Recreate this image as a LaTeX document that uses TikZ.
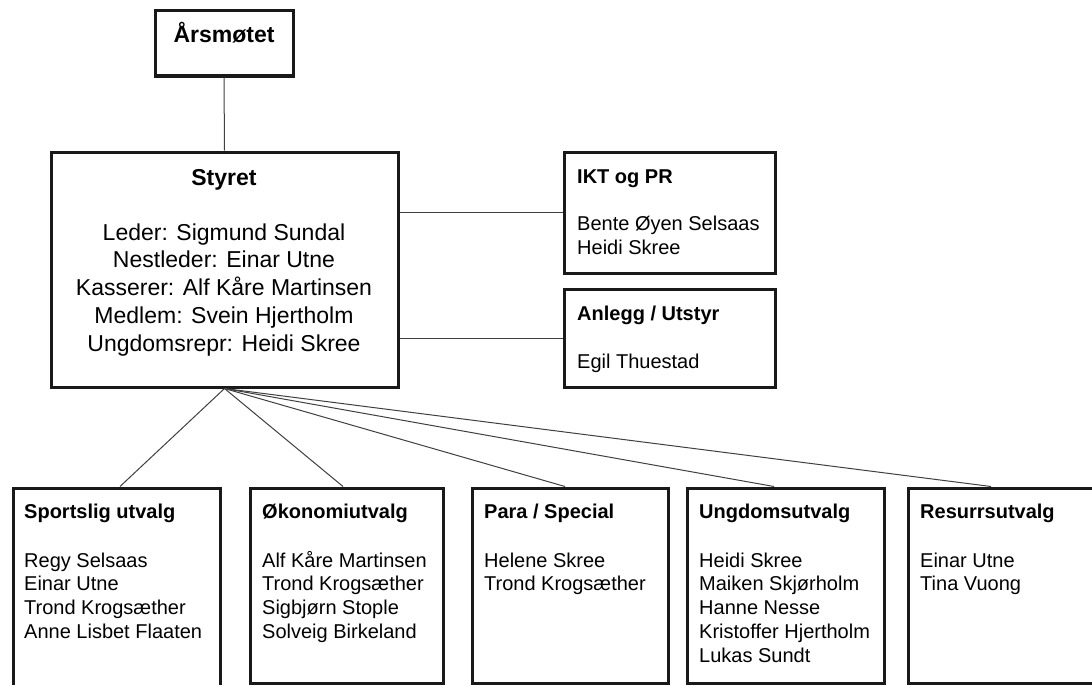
\documentclass[tikz,border=0pt]{standalone}
\usepackage{fontspec}
\setmainfont{Liberation Sans}
\usetikzlibrary{calc}
\begin{document}
\begin{tikzpicture}[x=1pt,y=-1pt,
  box/.style={draw=black!90, line width=3pt, inner sep=0pt},
  link/.style={draw=black!75, line width=1pt},
  ttl/.style={anchor=base west, inner sep=0pt, font=\fontsize{20}{24}\selectfont\bfseries},
  names/.style={anchor=base west, inner sep=0pt, align=left, font=\fontsize{20}{23.75}\selectfont},
  bigttl/.style={anchor=base, inner sep=0pt, font=\fontsize{23}{27.75}\selectfont\bfseries},
  bigtxt/.style={anchor=base, inner sep=0pt, align=center, font=\fontsize{23}{27.75}\selectfont},
]
\useasboundingbox (0,0) rectangle (1092,685);
\clip (0,0) rectangle (1092,685);
\fill[white] (0,0) rectangle (1092,685);

% boxes
\node[box, minimum width=138pt, minimum height=65pt] (ars) at (224,43.5) {};
\node[box, minimum width=347pt, minimum height=235pt] (styret) at (224.5,269.5) {};
\node[box, minimum width=211pt, minimum height=121pt] (ikt) at (669.5,212.5) {};
\node[box, minimum width=211pt, minimum height=98pt] (anlegg) at (669.5,338) {};
\node[box, minimum width=207pt, minimum height=198pt] (sport) at (116.5,587) {};
\node[box, minimum width=193pt, minimum height=195pt] (okon) at (346.5,585.5) {};
\node[box, minimum width=196pt, minimum height=195pt] (para) at (570,585.5) {};
\node[box, minimum width=197pt, minimum height=195pt] (ungd) at (785.5,585.5) {};
\node[box, minimum width=204pt, minimum height=195pt] (resurs) at (1010,585.5) {};

% connectors
\draw[link] (ars.south) -- (styret.north);
\draw[link] (ikt.west -| styret.east) -- (ikt.west);
\draw[link] (anlegg.west -| styret.east) -- (anlegg.west);
\draw[link] (styret.south) -- ($(sport.north)+(3.5,0)$);
\draw[link] (styret.south) -- ($(okon.north)+(-3.5,0)$);
\draw[link] (styret.south) -- ($(para.north)+(-5,0)$);
\draw[link] (styret.south) -- ($(ungd.north)+(-11.5,0)$);
\draw[link] (styret.south) -- ($(resurs.north)+(-19,0)$);

% texts (multi-line nodes are placed at the baseline of their last line)
\node[bigttl] (arsT) at (224,43) {Årsmøtet};
\node[bigttl] (styretT) at (224,185) {Styret};
\node[bigtxt] (styretN) at (224,351) {Leder: Sigmund Sundal\\Nestleder: Einar Utne\\Kasserer: Alf Kåre Martinsen\\Medlem: Svein Hjertholm\\Ungdomsrepr: Heidi Skree};

\node[ttl] (iktT) at (577,183) {IKT og PR};
\node[names] (iktN) at (577,254) {Bente Øyen Selsaas\\Heidi Skree};
\node[ttl] (anleggT) at (577,320) {Anlegg / Utstyr};
\node[names] (anleggN) at (577,368) {Egil Thuestad};

\node[ttl] (sportT) at (24,518) {Sportslig utvalg};
\node[names] (sportN) at (24,638.25) {Regy Selsaas\\Einar Utne\\Trond Krogsæther\\Anne Lisbet Flaaten};
\node[ttl] (okonT) at (262,518) {Økonomiutvalg};
\node[names] (okonN) at (262,638.25) {Alf Kåre Martinsen\\Trond Krogsæther\\Sigbjørn Stople\\Solveig Birkeland};
\node[ttl] (paraT) at (484,518) {Para / Special};
\node[names] (paraN) at (484,590.75) {Helene Skree\\Trond Krogsæther};
\node[ttl] (ungdT) at (699,518) {Ungdomsutvalg};
\node[names] (ungdN) at (699,662) {Heidi Skree\\Maiken Skjørholm\\Hanne Nesse\\Kristoffer Hjertholm\\Lukas Sundt};
\node[ttl] (resursT) at (920,518) {Resurrsutvalg};
\node[names] (resursN) at (920,590.75) {Einar Utne\\Tina Vuong};
\end{tikzpicture}
\end{document}
